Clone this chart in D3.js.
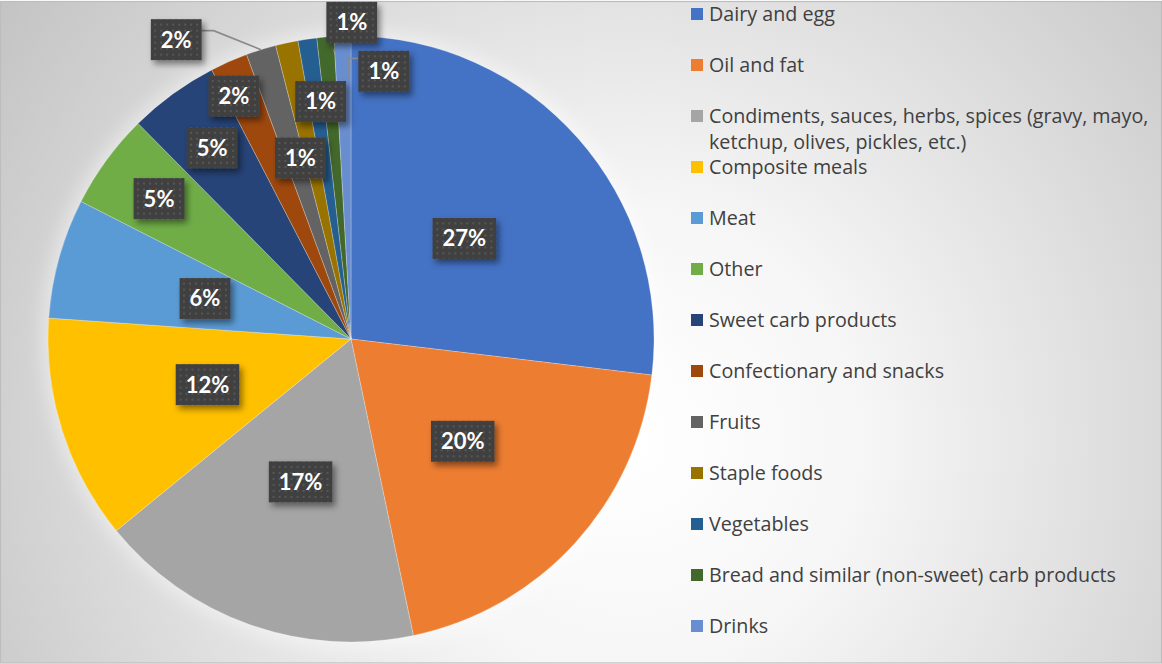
<!DOCTYPE html>
<html>
<head>
<meta charset="utf-8">
<script src="https://cdn.jsdelivr.net/npm/d3@7"></script>
<style>
  html, body { margin: 0; padding: 0; background: #fff; }
  svg { display: block; }
</style>
</head>
<body>
<svg id="chart" width="1162" height="664"></svg>
<script>
// Food categories and their share of the total
const categories = [
  "Dairy and egg",
  "Oil and fat",
  "Condiments, sauces, herbs, spices (gravy, mayo, ketchup, olives, pickles, etc.)",
  "Composite meals",
  "Meat",
  "Other",
  "Sweet carb products",
  "Confectionary and snacks",
  "Fruits",
  "Staple foods",
  "Vegetables",
  "Bread and similar (non-sweet) carb products",
  "Drinks"
];
const shares = [26.9, 19.8, 17.4, 12.0, 6.4, 5.1, 4.8, 2.0, 1.6, 1.2, 1.0, 0.9, 0.9];
const colors = [
  "#4472C4", "#ED7D31", "#A5A5A5", "#FFC000", "#5B9BD5", "#70AD47",
  "#264478", "#9E480E", "#636363", "#997300", "#255E91", "#43682B", "#698ED0"
];

// Data-label placement: [angle offset from slice middle (deg), radius fraction]
const labelPlacement = [
  [0, 0.5], [0, 0.5], [0, 0.5], [0, 0.497], [0, 0.5], [0, 0.785], [0, 0.78],
  [-2, 0.89], [-13, 1.144], [-3.4, 0.62], [1, 0.79], [5, 1.045], [8.6, 0.89]
];
// Leader lines: slice index, anchor position within slice (t of span, r fraction), box side
const leaders = [
  { i: 8,  t: 0.5,  r: 1.0,   side: "right",  off: -9 },
  { i: 11, t: 0.95, r: 0.95,  side: "bottom", off: 0 },
  { i: 12, t: 0.9,  r: 0.855, side: "left",   off: -13 }
];

const W = 1162, H = 664;
const cx = 351, cy = 339, R = 303;

const svg = d3.select("#chart");
const defs = svg.append("defs");

// Background gradient
const bg = defs.append("radialGradient")
  .attr("id", "bgGrad").attr("gradientUnits", "userSpaceOnUse")
  .attr("cx", 630).attr("cy", 440).attr("r", 780);
bg.append("stop").attr("offset", "0").attr("stop-color", "#ffffff");
bg.append("stop").attr("offset", "0.3").attr("stop-color", "#f6f6f6");
bg.append("stop").attr("offset", "1").attr("stop-color", "#c2c2c2");

// Dotted texture for data-label boxes
const pat = defs.append("pattern").attr("id", "dots")
  .attr("patternUnits", "userSpaceOnUse").attr("width", 6).attr("height", 6);
pat.append("rect").attr("width", 6).attr("height", 6).attr("fill", "#404040");
pat.append("rect").attr("x", 2).attr("y", 2).attr("width", 2).attr("height", 2).attr("fill", "#575757");

const sh = defs.append("filter").attr("id", "boxShadow")
  .attr("x", "-30%").attr("y", "-30%").attr("width", "170%").attr("height", "170%");
sh.append("feDropShadow").attr("dx", 3).attr("dy", 4).attr("stdDeviation", 3)
  .attr("flood-color", "#000").attr("flood-opacity", 0.45);

const glow = defs.append("filter").attr("id", "pieGlow")
  .attr("x", "-20%").attr("y", "-20%").attr("width", "140%").attr("height", "140%");
glow.append("feGaussianBlur").attr("stdDeviation", 9);

svg.append("rect").attr("x", 0.5).attr("y", 1.5).attr("width", W - 1).attr("height", H - 2.5)
  .attr("fill", "url(#bgGrad)").attr("stroke", "#bdbdbd").attr("stroke-width", 1.2);

const g = svg.append("g").attr("transform", `translate(${cx},${cy})`);

// Soft light halo around the pie
g.append("circle").attr("r", R + 6).attr("fill", "#ffffff").attr("opacity", 0.45)
  .attr("filter", "url(#pieGlow)");

const pie = d3.pie().sort(null).value(d => d);
const arcs = pie(shares);
const arc = d3.arc().innerRadius(0).outerRadius(R);

g.selectAll("path.slice").data(arcs).join("path")
  .attr("class", "slice")
  .attr("d", arc)
  .attr("fill", (d, i) => colors[i])
  .attr("stroke", "rgba(255,255,255,0.35)")
  .attr("stroke-width", 0.7);

const total = d3.sum(shares);
const fmt = d3.format(".0%");
const polar = (ang, r) => [Math.sin(ang) * r, -Math.cos(ang) * r];
const deg = Math.PI / 180;

// Label boxes
const labels = arcs.map((a, i) => {
  const mid = (a.startAngle + a.endAngle) / 2 + labelPlacement[i][0] * deg;
  const [x, y] = polar(mid, labelPlacement[i][1] * R);
  return { i, x, y, text: fmt(shares[i] / total) };
});

const lblG = g.append("g");
const lbl = lblG.selectAll("g.lbl").data(labels).join("g")
  .attr("class", "lbl")
  .attr("transform", d => `translate(${d.x},${d.y})`);

const txt = lbl.append("text")
  .attr("text-anchor", "middle")
  .attr("dy", "0.36em")
  .attr("font-family", "Lato, 'Open Sans', sans-serif")
  .attr("font-weight", 700)
  .attr("font-size", 22)
  .attr("fill", "#ffffff")
  .text(d => d.text);

txt.each(function (d) {
  const w = this.getComputedTextLength();
  d.bw = w + 20; d.bh = 41;
});

// Leader lines (drawn before boxes so boxes sit on top)
const leaderG = g.insert("g", () => lblG.node());
leaders.forEach(L => {
  const a = arcs[L.i];
  const d = labels[L.i];
  const ang = a.startAngle + (a.endAngle - a.startAngle) * L.t;
  const [ax, ay] = polar(ang, L.r * R);
  let pts;
  if (L.side === "right") {
    const sx = d.x + d.bw / 2, sy = d.y + L.off;
    pts = [[sx, sy], [sx + 12, sy], [ax, ay]];
  } else if (L.side === "left") {
    const sx = d.x - d.bw / 2, sy = d.y + L.off;
    pts = [[sx, sy], [sx - 10, sy], [ax, ay]];
  } else {
    pts = [[ax + 2, d.y + d.bh / 2], [ax, ay]];
  }
  leaderG.append("path")
    .attr("d", d3.line()(pts))
    .attr("fill", "none")
    .attr("stroke", "#8a8a8a")
    .attr("stroke-width", 1.6);
});

lbl.insert("rect", "text")
  .attr("x", d => -d.bw / 2).attr("y", d => -d.bh / 2)
  .attr("width", d => d.bw).attr("height", d => d.bh)
  .attr("fill", "url(#dots)")
  .attr("filter", "url(#boxShadow)");

// Legend
const legend = svg.append("g").attr("transform", "translate(691,14)");
const rowH = 51, lineH = 26, maxW = 452;
const legendFont = { family: "'Open Sans', Lato, sans-serif", size: 19.7 };
const items = legend.selectAll("g.item").data(categories).join("g")
  .attr("class", "item")
  .attr("transform", (d, i) => `translate(0,${i * rowH})`);
items.append("rect")
  .attr("x", 0).attr("y", -6).attr("width", 12).attr("height", 12)
  .attr("fill", (d, i) => colors[i]);

// Word-wrap each legend entry into separate text lines
items.each(function (name) {
  const item = d3.select(this);
  const words = name.split(" ");
  const lines = [];
  let cur = [];
  const probe = item.append("text")
    .attr("font-family", legendFont.family).attr("font-size", legendFont.size);
  words.forEach(w => {
    cur.push(w);
    probe.text(cur.join(" "));
    if (probe.node().getComputedTextLength() > maxW && cur.length > 1) {
      cur.pop();
      lines.push(cur.join(" "));
      cur = [w];
    }
  });
  lines.push(cur.join(" "));
  probe.remove();
  lines.forEach((ln, k) => {
    item.append("text")
      .attr("x", 18).attr("y", k * lineH).attr("dy", "0.35em")
      .attr("font-family", legendFont.family)
      .attr("font-size", legendFont.size)
      .attr("fill", "#404040")
      .text(ln);
  });
});
</script>
</body>
</html>
